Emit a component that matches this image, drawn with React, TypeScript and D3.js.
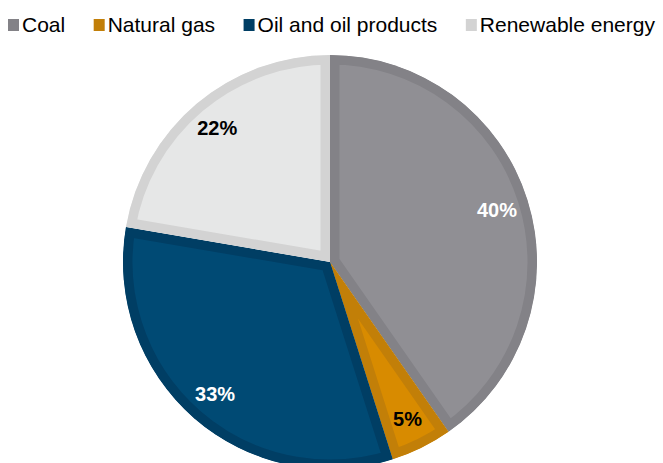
import React from "react";
import * as d3 from "d3";

const categories = ["Coal", "Natural gas", "Oil and oil products", "Renewable energy"];
const shares = [40.3, 4.8, 32.6, 22.3];
const valueLabels = ["40%", "5%", "33%", "22%"];
const fillColors = ["#908f94", "#d88b00", "#004a74", "#e6e7e7"];
const borderColors = ["#838287", "#c27f08", "#003e64", "#d3d3d3"];
const labelColors = ["#ffffff", "#000000", "#ffffff", "#000000"];

const W = 663;
const H = 463;
const CX = 330;
const CY = 262;
const R = 207;
const BORDER = 9.5;
const LABEL_R = 175;
const FONT = "'Liberation Sans', Arial, sans-serif";

function measure(text: string, font: string): number {
  const c = document.createElement("canvas");
  const ctx = c.getContext("2d");
  if (!ctx) return text.length * 10;
  ctx.font = font;
  return ctx.measureText(text).width;
}

export default function App() {
  const pie = d3
    .pie<number>()
    .sort(null)
    .value((d) => d)
    .startAngle(0)
    .endAngle(2 * Math.PI);
  const arcs = pie(shares);
  const arcGen = d3.arc<d3.PieArcDatum<number>>().innerRadius(0).outerRadius(R);
  const labelArc = d3
    .arc<d3.PieArcDatum<number>>()
    .innerRadius(LABEL_R)
    .outerRadius(LABEL_R);

  const legendFont = `21px ${FONT}`;
  let x = 8;
  const legendItems = categories.map((c, i) => {
    const item = { x, label: c, i };
    x += 11 + 3 + measure(c, legendFont) + 28.5;
    return item;
  });

  return (
    <div style={{ position: "absolute", left: 0, top: 0 }}>
      <svg width={W} height={H} style={{ display: "block" }}>
        <g transform={`translate(${CX},${CY})`}>
          <defs>
            {arcs.map((a, i) => (
              <clipPath id={`clip${i}`} key={i}>
                <path d={arcGen(a) || ""} />
              </clipPath>
            ))}
          </defs>
          {arcs.map((a, i) => (
            <path
              key={i}
              d={arcGen(a) || ""}
              fill={fillColors[i]}
              stroke={borderColors[i]}
              strokeWidth={BORDER * 2}
              strokeLinejoin="miter"
              clipPath={`url(#clip${i})`}
            />
          ))}
          {arcs.map((a, i) => {
            const [lx, ly] = labelArc.centroid(a);
            return (
              <text
                key={i}
                x={lx}
                y={ly}
                textAnchor="middle"
                dominantBaseline="central"
                fontFamily={FONT}
                fontSize={20}
                fontWeight="bold"
                fill={labelColors[i]}
              >
                {valueLabels[i]}
              </text>
            );
          })}
        </g>
        <g>
          {legendItems.map((it) => (
            <g key={it.i}>
              <rect x={it.x} y={19} width={11} height={12} fill={borderColors[it.i]} />
              <text x={it.x + 14} y={32} fontFamily={FONT} fontSize={21} fill="#000000">
                {it.label}
              </text>
            </g>
          ))}
        </g>
      </svg>
    </div>
  );
}
